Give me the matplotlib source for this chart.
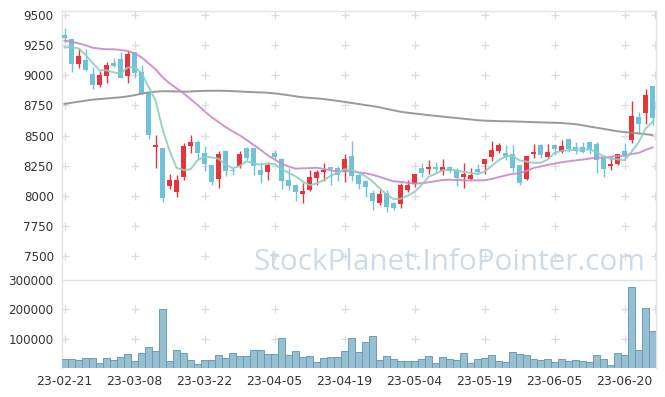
import numpy as np
import pandas as pd
import matplotlib
matplotlib.use("Agg")
import matplotlib.pyplot as plt

# ---------------- data ----------------
tick_labels = ['23-02-21', '23-03-08', '23-03-22', '23-04-05', '23-04-19',
               '23-05-04', '23-05-19', '23-06-05', '23-06-20']

opens = [9330, 9300, 9090, 9125, 9010, 8920, 8995, 9105, 9135, 8995,
         9190, 9025, 8855, 8405, 8400, 8085, 8035, 8160, 8410, 8450,
         8360, 8255, 8140, 8375, 8215, 8250, 8400, 8395, 8215, 8200,
         8360, 8310, 8130, 8090, 8020, 8050, 8150, 8200, 8238, 8235,
         8200, 8330, 8175, 8120, 8025, 7940, 8025, 7945, 7935, 8050,
         8095, 8235, 8222, 8237, 8210, 8237, 8215, 8155, 8140, 8223,
         8262, 8325, 8375, 8360, 8348, 8255, 8140, 8348, 8422, 8320,
         8422, 8365, 8470, 8408, 8403, 8445, 8430, 8311, 8251, 8265,
         8372, 8465, 8652, 8690, 8910]
highs = [9390, 9300, 9225, 9215, 9070, 9035, 9110, 9140, 9195, 9210,
         9195, 9085, 8860, 8505, 8400, 8185, 8175, 8440, 8505, 8460,
         8410, 8260, 8375, 8380, 8240, 8370, 8405, 8400, 8280, 8285,
         8380, 8315, 8230, 8095, 8105, 8215, 8215, 8270, 8240, 8245,
         8345, 8455, 8180, 8135, 8050, 8050, 8050, 7950, 8105, 8130,
         8185, 8270, 8300, 8284, 8310, 8250, 8230, 8270, 8235, 8262,
         8305, 8455, 8435, 8420, 8420, 8260, 8335, 8428, 8428, 8428,
         8428, 8460, 8472, 8450, 8450, 8450, 8450, 8340, 8320, 8350,
         8436, 8790, 8699, 8885, 8912]
lows = [9280, 9030, 9060, 9035, 8890, 8900, 8940, 9070, 8975, 8940,
        8985, 8845, 8470, 8235, 7950, 8060, 7995, 8130, 8360, 8305,
        8205, 8090, 8070, 8165, 8175, 8230, 8300, 8175, 8105, 8130,
        8310, 8055, 8050, 7960, 7945, 8045, 8090, 8120, 8090, 8120,
        8115, 8120, 8055, 7995, 7880, 7925, 7870, 7880, 7900, 8035,
        8075, 8160, 8180, 8187, 8175, 8190, 8080, 8065, 8130, 8179,
        8185, 8290, 8355, 8300, 8195, 8090, 8135, 8312, 8312, 8312,
        8339, 8355, 8365, 8348, 8353, 8350, 8190, 8160, 8215, 8260,
        8298, 8435, 8519, 8600, 8585]
closes = [9310, 9090, 9160, 9040, 8920, 9000, 9085, 9078, 8980, 9175,
          9020, 8845, 8505, 8420, 7985, 8130, 8130, 8410, 8450, 8360,
          8265, 8115, 8350, 8210, 8210, 8350, 8315, 8250, 8175, 8255,
          8320, 8120, 8085, 8035, 8045, 8160, 8195, 8215, 8220, 8170,
          8305, 8165, 8100, 8075, 7960, 8020, 7910, 7900, 8090, 8090,
          8180, 8190, 8238, 8221, 8238, 8210, 8150, 8180, 8175, 8196,
          8305, 8380, 8420, 8335, 8230, 8110, 8330, 8367, 8339, 8361,
          8389, 8415, 8390, 8375, 8367, 8385, 8300, 8221, 8265, 8348,
          8339, 8665, 8594, 8835, 8645]
# closes of the four sessions before the first visible one (for the 5-day MA)
prior_closes = [9100, 9190, 9315, 9245]

# 20-day MA for the first 19 sessions
ma20_head = [9287, 9279, 9265, 9249, 9229, 9221, 9216, 9216, 9210, 9202,
             9182, 9149, 9100, 9050, 8984, 8934, 8892, 8851, 8804]

ma120 = [8763, 8772, 8781, 8790, 8798, 8803, 8808, 8813, 8818, 8825,
         8835, 8848, 8858, 8864, 8868, 8868, 8866, 8864, 8866, 8869,
         8871, 8872, 8872, 8871, 8869, 8866, 8863, 8860, 8858, 8856,
         8850, 8843, 8835, 8826, 8818, 8813, 8809, 8803, 8796, 8788,
         8780, 8771, 8762, 8753, 8745, 8735, 8722, 8710, 8698, 8690,
         8683, 8677, 8670, 8664, 8658, 8652, 8646, 8640, 8634, 8628,
         8624, 8622, 8620, 8619, 8618, 8616, 8614, 8612, 8610, 8608,
         8607, 8604, 8600, 8595, 8586, 8575, 8566, 8556, 8546, 8536,
         8530, 8524, 8518, 8512, 8505]

volumes = [30700, 30700, 27300, 34000, 34000, 17000, 34000, 27300, 37500, 47700,
           25000, 51000, 71500, 58000, 201000, 24000, 61300, 51000, 27300, 13600,
           27300, 27300, 44300, 34000, 51000, 41000, 41000, 61300, 61300, 47700,
           47700, 102000, 44300, 58000, 37500, 41000, 20400, 34000, 37500, 37500,
           59000, 102000, 54500, 88600, 109000, 28400, 41000, 31800, 25000, 25000,
           25000, 31800, 41000, 17000, 37500, 31800, 28400, 51000, 17000, 31800,
           34000, 44300, 25000, 20400, 54500, 47700, 44300, 31800, 28400, 31800,
           20400, 31800, 25000, 28400, 25000, 20400, 44300, 31800, 9100, 51000,
           44300, 276000, 62500, 204500, 127000]

price_ticks = [7500, 7750, 8000, 8250, 8500, 8750, 9000, 9250, 9500]
volume_ticks = [100000, 200000, 300000]

# ---------------- derived ----------------
n = len(closes)
x = np.arange(n)
o = np.array(opens); h = np.array(highs); l = np.array(lows); c = np.array(closes)
allc = pd.Series(prior_closes + closes)
ma5 = allc.rolling(5).mean().to_numpy()[len(prior_closes):]
ma20_tail = pd.Series(closes).rolling(20).mean().to_numpy()[19:]
ma20 = np.concatenate([np.array(ma20_head, float), ma20_tail])

RED = '#e8333a'
BLUE = '#6ec3d9'
GRID = '#dcdcdc'
SPINE = '#e3e3e3'
TXT = '#333333'

fig = plt.figure(figsize=(6.65, 3.97), dpi=100)
W, H = 665, 397
ax = fig.add_axes([62 / W, 1 - 278 / H, 594 / W, (278 - 11) / H])
axv = fig.add_axes([62 / W, 1 - 368 / H, 594 / W, 88 / H])

xl = (-0.36, 84.5)
for a in (ax, axv):
    a.set_xlim(*xl)
    a.set_facecolor('white')
    a.spines['bottom'].set_visible(False)
    for s in ('top', 'left', 'right'):
        a.spines[s].set_color(SPINE)
        a.spines[s].set_linewidth(1.0)
    a.tick_params(length=0, labelsize=8.6, labelcolor=TXT, pad=6)

# price panel
ax.set_ylim(7320, 9533)
up = c >= o
colors = np.where(up, RED, BLUE)
ax.vlines(x, l, h, colors=colors, linewidth=1.0, zorder=3)
body_bot = np.minimum(o, c)
body_h = np.maximum(np.abs(c - o), 6)
ax.bar(x, body_h, bottom=body_bot, width=0.72, color=colors, linewidth=0, zorder=4)

ax.plot(x, ma120, color='#8f8f8f', lw=1.4, alpha=0.9, zorder=5)
ax.plot(x, ma20, color='#c98ac6', lw=1.4, alpha=0.9, zorder=5)
ax.plot(x, ma5, color='#8ccfc0', lw=1.4, alpha=0.9, zorder=5)

ax.set_yticks(price_ticks)
ax.set_yticklabels([str(t) for t in price_ticks])
ax.set_xticks([])

gx = [0, 10, 20, 30, 40, 50, 60, 70, 80, 84.35]
gxx, gyy = np.meshgrid(gx, price_ticks)
ax.plot(gxx.ravel(), gyy.ravel(), '+', color=GRID, ms=6, mew=0.9, zorder=1)

# volume panel
axv.set_ylim(0, 300000)
axv.bar(x, volumes, width=1.0, color='#96bfd2', edgecolor='#6b9cb4', linewidth=0.7, zorder=3)
axv.set_yticks(volume_ticks)
axv.set_yticklabels([str(t) for t in volume_ticks])
axv.set_xticks(list(range(0, 81, 10)))
axv.set_xticklabels(tick_labels)
axv.tick_params(axis='x', pad=5, labelsize=8.9)
vxx, vyy = np.meshgrid(gx, [100000, 200000])
axv.plot(vxx.ravel(), vyy.ravel(), '+', color=GRID, ms=6, mew=0.9, zorder=1)

fig.text(645 / W, 1 - 270 / H, 'StockPlanet.InfoPointer.com', ha='right', va='baseline',
         fontsize=21.4, color='#cddbe6', family='Open Sans', zorder=0)

fig.savefig('out.png', dpi=100, facecolor='white')
